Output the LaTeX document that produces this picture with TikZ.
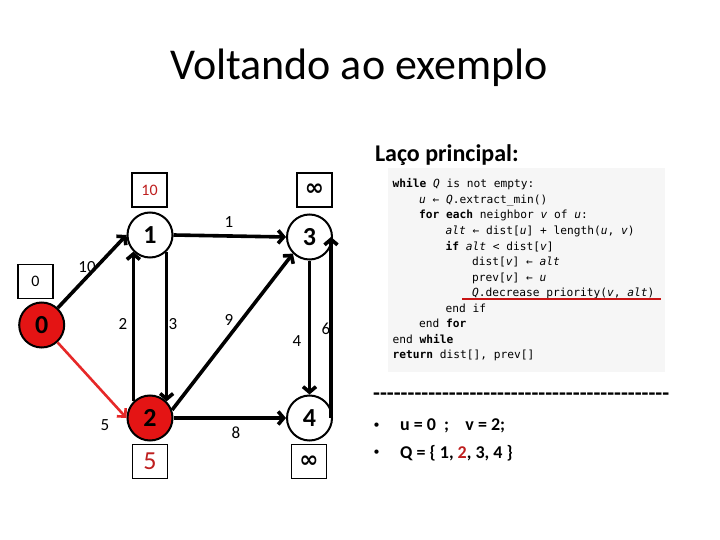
\documentclass[tikz,border=0pt]{standalone}
\usepackage{fontspec}
\setmainfont{Carlito}
\newfontfamily\codefont{DejaVu Sans Mono}
\newfontfamily\symfont{DejaVu Sans}
\usetikzlibrary{arrows.meta}
\definecolor{nodered}{RGB}{228,20,20}
\definecolor{edgered}{RGB}{230,40,40}
\definecolor{boxred}{RGB}{190,30,30}
\definecolor{codebg}{RGB}{246,246,246}
\definecolor{ulred}{RGB}{200,20,20}
\newcommand\ind{\hspace*{26.5pt}}
\newcommand\hyrow{\foreach \i in {1,...,43}{\hbox{-}}}
\begin{document}
\begin{tikzpicture}[x=1pt,y=-1pt,
  vtx/.style={circle, draw, line width=2pt, minimum size=45pt, inner sep=0pt, font=\fontsize{26}{26}\selectfont\bfseries},
  redvtx/.style={vtx, fill=nodered},
  dbox/.style={draw, line width=1.4pt, minimum width=35pt, minimum height=34pt, inner sep=0pt},
  elbl/.style={font=\fontsize{17}{17}\selectfont, inner sep=0pt},
  arc/.style={line width=3.6pt, -{Straight Barb[length=5.5pt,width=13pt]}},
  redarc/.style={line width=2.6pt, draw=edgered, -{Straight Barb[length=6pt,width=12pt]}},
  inftxt/.style={font=\symfont\bfseries\fontsize{23}{23}\selectfont}
]
\useasboundingbox (0,0) rectangle (720,540);

% title
\node[anchor=base, font=\fontsize{44}{44}\selectfont] (title) at (359,80) {Voltando ao exemplo};
\node[anchor=base west, font=\fontsize{24}{24}\selectfont\bfseries] (laco) at (371.5,161.5) {Laço principal:};

% graph vertices
\node[redvtx] (v0) at (41.7,325) {0};
\node[vtx] (v1) at (150,235) {1};
\node[vtx] (v3) at (309.5,237) {3};
\node[redvtx] (v2) at (150,418) {2};
\node[vtx] (v4) at (309.5,418) {4};

% distance boxes
\node[dbox, font=\fontsize{16}{16}\selectfont, text=boxred] (d1) at (149.5,190) {10};
\node[dbox, inftxt] (d3) at (314.5,190) {∞};
\node[dbox, font=\fontsize{16}{16}\selectfont] (d0) at (35.5,281.5) {0};
\node[dbox, font=\fontsize{26}{26}\selectfont, text=boxred] (d2) at (150,461.5) {5};
\node[dbox, inftxt] (d4) at (309,461.5) {∞};

% edges
\draw[arc] (v0) -- (v1.west);
\draw[redarc] (v0) -- (v2.west);
\draw[arc] (v1.east) -- (v3.west);
\draw[arc] (v1.south east) -- (v2.north east);
\draw[arc] (v2.north west) -- (v1.south west);
\draw[arc] (v2.20) -- (v3.225);
\draw[arc] (v2.east) -- (v4.west);
\draw[arc] (v3.south) -- (v4.north);
\draw[arc] ([xshift=-2pt]v4.east) -- ([xshift=-2pt]v3.east);

% edge labels
\node[elbl] (l01) at (87,267) {10};
\node[elbl] (l02) at (105,425) {5};
\node[elbl] (l13) at (229,222) {1};
\node[elbl] (l21) at (123,324) {2};
\node[elbl] (l12) at (173,324) {3};
\node[elbl] (l23) at (229,320) {9};
\node[elbl] (l24) at (236,433) {8};
\node[elbl] (l34) at (297,341) {4};
\node[elbl] (l43) at (326,329) {6};

% code block
\node[fill=codebg, minimum width=277pt, minimum height=204pt, inner sep=0pt, anchor=north west] (codebg) at (388,168) {};
\node[anchor=north west, inner sep=0pt, align=left, font=\codefont\fontsize{11.2}{15.55}\selectfont] (code) at (392.5,178.5) {%
\textbf{while} \textit{Q} is not empty:\\
\ind\textit{u} ← \textit{Q}.extract\_min()\\
\ind\textbf{for each} neighbor \textit{v} of \textit{u}:\\
\ind\ind\textit{alt} ← dist[\textit{u}] + length(\textit{u}, \textit{v})\\
\ind\ind\textbf{if} \textit{alt} < dist[\textit{v}]\\
\ind\ind\ind dist[\textit{v}] ← \textit{alt}\\
\ind\ind\ind prev[\textit{v}] ← \textit{u}\\
\ind\ind\ind\textit{Q}.decrease\_priority(\textit{v}, \textit{alt})\\
\ind\ind end if\\
\ind end \textbf{for}\\
end \textbf{while}\\
\textbf{return} dist[], prev[]};
\coordinate (ulA) at (462,298.5);
\coordinate (ulB) at (661,298.5);
\draw[ulred, line width=2pt] (ulA) -- (ulB);

% separator and bullets
\node[anchor=west, inner sep=0pt, font=\fontsize{22.5}{22.5}\selectfont\bfseries] (sep) at (373,397) {\hyrow};
\node[font=\fontsize{12}{12}\selectfont] (b1) at (376.5,426) {•};
\node[font=\fontsize{12}{12}\selectfont] (b2) at (376.5,453) {•};
\node[anchor=west, inner sep=0pt, font=\fontsize{18}{18}\selectfont\bfseries] (t1) at (400,426) {u = 0 \ ; \ \ \ v = 2;};
\node[anchor=west, inner sep=0pt, font=\fontsize{18}{18}\selectfont\bfseries] (t2) at (400,453) {Q = \{ 1, \textcolor{boxred}{2}, 3, 4 \}};
\end{tikzpicture}
\end{document}
